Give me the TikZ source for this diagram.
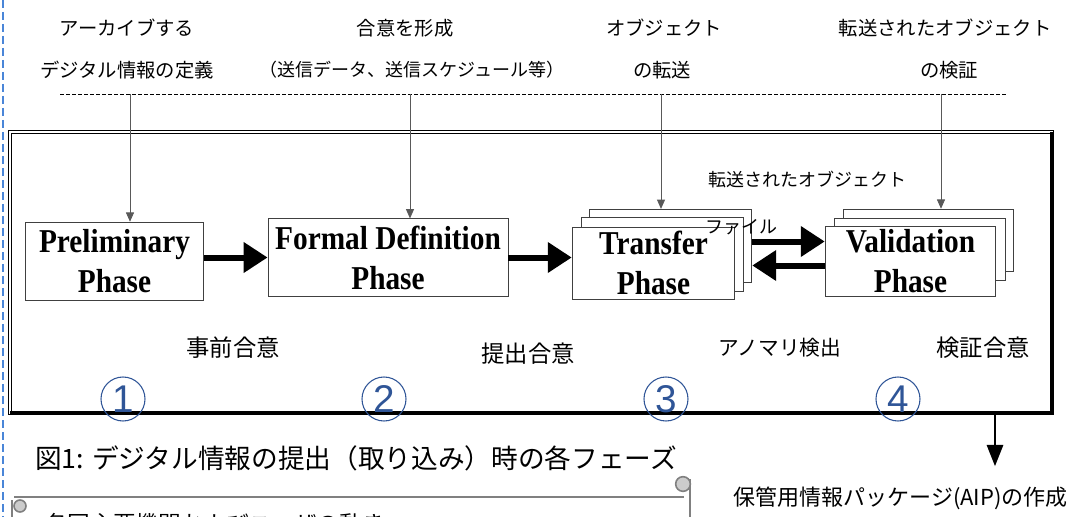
\documentclass[tikz,border=0pt]{standalone}
\usepackage{fontspec}
\setmainfont{Noto Sans CJK JP}
\newfontfamily\phasefont[FakeStretch=0.88]{Liberation Serif}
\newfontfamily\digitfont{Liberation Sans}
\usetikzlibrary{arrows.meta,positioning,calc}
\definecolor{numblue}{HTML}{2F5597}
\definecolor{edgeblue}{HTML}{4A86D8}
\newcommand{\jfs}[1]{\fontsize{#1}{#1}\selectfont}

\begin{document}
\begin{tikzpicture}[x=0.75pt,y=-0.75pt,
  phasebox/.style={draw=black!75,line width=0.6pt,fill=white,align=center,inner sep=0pt,
    font=\phasefont\bfseries\fontsize{25}{30}\selectfont},
  bigarrow/.style={line width=4.5pt,-{Triangle[length=18pt,width=22pt]}},
  thinarrow/.style={draw=black!65,line width=0.7pt,-{Triangle[length=7pt,width=6pt]}},
  toplabel/.style={font=\jfs{14.5},inner sep=0pt},
  agreelabel/.style={font=\jfs{17.5},inner sep=0pt},
  numcircle/.style={circle,draw=numblue,line width=0.8pt,text=numblue,minimum size=33pt,inner sep=0pt,
    font=\digitfont\fontsize{29}{29}\selectfont},
  scrollline/.style={draw=black!50,line width=1.2pt}]
  \useasboundingbox (0,0) rectangle (1075,517);
  \draw[edgeblue,line width=1.6pt,dash pattern=on 6pt off 3pt] (3,0) -- (3,517);

  \node[toplabel] (def1) at (127,28) {アーカイブする};
  \node[toplabel] (def2) at (127,70) {デジタル情報の定義};
  \node[toplabel] (agr1) at (405,28) {合意を形成};
  \node[toplabel,font=\jfs{13.5}] (agr2) at (412,70) {（送信データ、送信スケジュール等）};
  \node[toplabel] (obj1) at (664,28) {オブジェクト};
  \node[toplabel] (obj2) at (662,70) {の転送};
  \node[toplabel] (chk1) at (945,28) {転送されたオブジェクト};
  \node[toplabel] (chk2) at (949,70) {の検証};
  \draw[line width=0.6pt,dash pattern=on 3pt off 1.5pt] (60,94) -- (1006,94);
  \coordinate (s1) at (130,94); \coordinate (s2) at (410,94);
  \coordinate (s3) at (661,94); \coordinate (s4) at (941,94);

  \draw[line width=1.1pt,double=white,double distance=0.9pt] (10,132) rectangle (1052,413);
  \draw[line width=3pt] (1052,132) -- (1052,413) -- (10,413);

  \node[phasebox,minimum width=134pt,minimum height=59pt] (pre) at (114.5,261.5) {Preliminary\\Phase};
  \node[phasebox,minimum width=180pt,minimum height=58pt] (fdef) at (388,257.5) {Formal Definition\\Phase};
  \node[phasebox,minimum width=122pt,minimum height=55pt] (tr3) at (670.5,246) {};
  \node[phasebox,minimum width=122pt,minimum height=55pt] (tr2) at (662.5,254.5) {};
  \node[phasebox,minimum width=122pt,minimum height=54pt] (tr) at (653.5,263) {Transfer\\Phase};
  \node[phasebox,minimum width=128pt,minimum height=47pt] (va3) at (928.5,240.5) {};
  \node[phasebox,minimum width=128pt,minimum height=47pt] (va2) at (920,249.5) {};
  \node[phasebox,minimum width=128pt,minimum height=53pt] (va) at (910.5,261.5) {Validation\\Phase};

  \draw[thinarrow] (s1) -- (s1 |- pre.north);
  \draw[thinarrow] (s2) -- (s2 |- fdef.north);
  \draw[thinarrow] (s3) -- (s3 |- tr3.north);
  \draw[thinarrow] (s4) -- (s4 |- va3.north);

  \draw[bigarrow] (pre.east |- fdef) -- (fdef.west);
  \draw[bigarrow] (fdef.east) -- (fdef.east -| tr.west);
  \draw[bigarrow] ([yshift=15pt]va.west -| tr3.east) -- ([yshift=15pt]va.west);
  \draw[bigarrow] ([yshift=-3pt]va.west) -- ([yshift=-3pt]va.west -| tr3.east);

  \node[toplabel,font=\jfs{13.5}] (moved) at (807,180) {転送されたオブジェクト};
  \node[font=\jfs{13.5},inner sep=0pt] (file) at (741,227) {ファイル};

  \node[agreelabel] (ag1) at (233,348) {事前合意};
  \node[agreelabel] (ag2) at (528,354) {提出合意};
  \node[agreelabel,font=\jfs{15.5}] (ag3) at (780,348) {アノマリ検出};
  \node[agreelabel] (ag4) at (983,348) {検証合意};
  \node[numcircle] (n1) at (123,399) {1};
  \node[numcircle] (n2) at (384,399) {2};
  \node[numcircle] (n3) at (666,399) {3};
  \node[numcircle] (n4) at (898,399) {4};

  \node[font=\jfs{20},anchor=west,inner sep=0pt] (cap) at (35,458) {図1: デジタル情報の提出（取り込み）時の各フェーズ};
  \node[font=\jfs{16.5},anchor=east,inner sep=0pt] (aip) at (1068,498) {保管用情報パッケージ(AIP)の作成};
  \coordinate (fb) at (995,415);
  \draw[line width=2.2pt,-{Triangle[length=16pt,width=12pt]},shorten >=15pt] (fb) -- (fb |- aip.north);

  \draw[scrollline] (14,497) -- (684,497);
  \draw[scrollline] (690,479) -- (690,517);
  \draw[scrollline,fill=black!20] (683,484) circle (5.5pt);
  \draw[scrollline] (12,500) -- (12,517);
  \draw[scrollline,fill=black!20] (20,506) circle (4.5pt);
  \node[font=\jfs{17},anchor=west,inner sep=0pt] (trend) at (45,524) {各国主要機関およびユーザの動き};
\end{tikzpicture}
\end{document}
